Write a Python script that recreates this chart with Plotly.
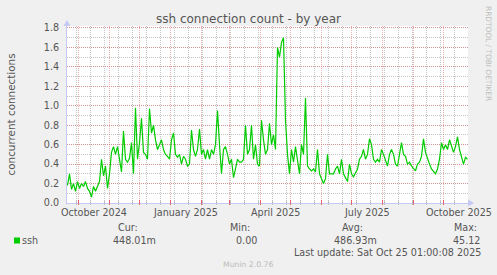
import plotly.graph_objects as go
import pandas as pd

# ---- data ----
start_date = "2024-09-20"
step = "2D"
ssh_values = [
    0.18, 0.30, 0.14, 0.20, 0.12, 0.22, 0.15, 0.20, 0.17, 0.22,
    0.15, 0.12, 0.06, 0.17, 0.12, 0.18, 0.22, 0.45, 0.28, 0.38,
    0.15, 0.30, 0.52, 0.58, 0.50, 0.58, 0.45, 0.32, 0.74, 0.45,
    0.42, 0.46, 0.62, 0.30, 0.98, 0.45, 0.62, 0.87, 0.52, 0.50,
    0.45, 0.97, 0.72, 0.80, 0.65, 0.55, 0.60, 0.65, 0.55, 0.50,
    0.48, 0.45, 0.65, 0.72, 0.50, 0.47, 0.50, 0.40, 0.48, 0.45,
    0.38, 0.40, 0.75, 0.55, 0.48, 0.55, 0.76, 0.50, 0.55, 0.45,
    0.55, 0.45, 0.55, 0.50, 0.60, 0.95, 0.60, 0.30, 0.55, 0.58,
    0.50, 0.40, 0.45, 0.26, 0.35, 0.45, 0.42, 0.42, 0.45, 0.80,
    0.50, 0.55, 0.80, 0.45, 0.60, 0.40, 0.38, 0.85, 0.65, 0.50,
    0.55, 0.82, 0.60, 0.70, 0.55, 1.60, 1.50, 1.65, 1.70, 0.85,
    0.50, 0.30, 0.55, 0.42, 0.58, 0.45, 0.30, 0.60, 0.50, 1.08,
    0.38, 0.35, 0.33, 0.35, 0.32, 0.55, 0.30, 0.25, 0.20, 0.25,
    0.50, 0.30, 0.30, 0.30, 0.35, 0.38, 0.30, 0.45, 0.30, 0.25,
    0.22, 0.40, 0.30, 0.27, 0.32, 0.35, 0.45, 0.48, 0.55, 0.45,
    0.50, 0.66, 0.60, 0.45, 0.42, 0.45, 0.42, 0.55, 0.50, 0.45,
    0.38, 0.50, 0.55, 0.50, 0.40, 0.38, 0.50, 0.62, 0.50, 0.48,
    0.40, 0.42, 0.38, 0.36, 0.33, 0.40, 0.42, 0.48, 0.66, 0.52,
    0.45, 0.40, 0.35, 0.32, 0.30, 0.35, 0.45, 0.62, 0.55, 0.60,
    0.55, 0.65, 0.58, 0.52, 0.58, 0.68, 0.55, 0.48, 0.40, 0.47,
    0.45,
]
dates = pd.date_range(start_date, periods=len(ssh_values), freq=step)

x_label_dates = ["2024-10-16", "2025-01-16", "2025-04-16", "2025-07-16", "2025-10-16"]
x_label_texts = ["October 2024", "January 2025", "April 2025", "July 2025", "October 2025"]
y_tick_vals = [0.0, 0.2, 0.4, 0.6, 0.8, 1.0, 1.2, 1.4, 1.6, 1.8]
y_tick_texts = ["0.0", "0.2", "0.4", "0.6", "0.8", "1.0", "1.2", "1.4", "1.6", "1.8"]

legend_name = "ssh"
stat_headers = ["Cur:", "Min:", "Avg:", "Max:"]
stat_values = ["448.01m", "0.00", "486.93m", "45.12"]
last_update = "Last update: Sat Oct 25 01:00:08 2025"
title_text = "ssh connection count - by year"
y_title = "concurrent connections"

# ---- layout geometry ----
W, H = 497, 275
L, R, T, B = 67, 29, 26, 72
PW, PH = W - L - R, H - T - B
FONT = "DejaVu Sans"
TXT = "#555555"
LINE_GREEN = "#00CC00"
AXIS_BLUE = "#C4CAF4"
MAJOR = "rgba(225,100,100,0.5)"
MINOR = "rgba(140,140,140,0.5)"


def px(x):
    return (x - L) / PW


def py(y):
    return (H - B - y) / PH


month_starts = pd.date_range("2024-10-01", "2025-10-01", freq="MS")
minor_lines = pd.date_range("2024-09-29", "2025-10-25", freq="14D")

fig = go.Figure()
fig.add_trace(go.Scatter(
    x=dates, y=ssh_values, mode="lines",
    line=dict(color=LINE_GREEN, width=1.2),
    hoverinfo="skip", showlegend=False,
))

annotations = []
for d, t in zip(x_label_dates, x_label_texts):
    annotations.append(dict(x=d, xref="x", y=0, yref="paper", yshift=-9,
                            text=t, showarrow=False, xanchor="center", yanchor="middle",
                            font=dict(family=FONT, size=9.6, color=TXT)))

annotations.append(dict(x=px(248.5), xref="paper", y=py(19), yref="paper", text=title_text,
                        showarrow=False, xanchor="center", yanchor="middle",
                        font=dict(family=FONT, size=12, color=TXT)))
annotations.append(dict(x=px(10), xref="paper", y=0.5, yref="paper", text=y_title,
                        showarrow=False, xanchor="center", yanchor="middle", textangle=-90,
                        font=dict(family=FONT, size=10.4, color=TXT)))
annotations.append(dict(x=px(489), xref="paper", y=py(53), yref="paper",
                        text="RRDTOOL / TOBI OETIKER", showarrow=False,
                        xanchor="center", yanchor="middle", textangle=90,
                        font=dict(family=FONT, size=7.4, color="#BDBDBD")))

annotations.append(dict(x=px(20), xref="paper", y=py(240), yref="paper", text=legend_name,
                        showarrow=False, xanchor="left", yanchor="middle",
                        font=dict(family=FONT, size=9.6, color=TXT)))
header_x = [127.5, 239.5, 352, 465.5]
value_x = [134.5, 246.5, 355, 466.5]
for hx, ht in zip(header_x, stat_headers):
    annotations.append(dict(x=px(hx), xref="paper", y=py(227.5), yref="paper", text=ht,
                            showarrow=False, xanchor="center", yanchor="middle",
                            font=dict(family=FONT, size=9.6, color=TXT)))
for vx, vt in zip(value_x, stat_values):
    annotations.append(dict(x=px(vx), xref="paper", y=py(240), yref="paper", text=vt,
                            showarrow=False, xanchor="center", yanchor="middle",
                            font=dict(family=FONT, size=9.6, color=TXT)))
annotations.append(dict(x=px(483), xref="paper", y=py(252), yref="paper", text=last_update,
                        showarrow=False, xanchor="right", yanchor="middle",
                        font=dict(family=FONT, size=9.6, color=TXT)))
annotations.append(dict(x=px(248), xref="paper", y=py(264), yref="paper", text="Munin 2.0.76",
                        showarrow=False, xanchor="center", yanchor="middle",
                        font=dict(family=FONT, size=7.7, color="#BBBBBB")))

shapes = []
# vertical grid (drawn below the data) and small axis ticks
for d in minor_lines:
    shapes.append(dict(type="line", xref="x", yref="paper", x0=d, x1=d, y0=0, y1=1,
                       layer="below", line=dict(color=MINOR, width=1, dash="1px,1px")))
    shapes.append(dict(type="line", xref="x", yref="paper", x0=d, x1=d, y0=py(205), y1=py(201),
                       layer="below", line=dict(color=MINOR, width=1)))
for d in month_starts:
    shapes.append(dict(type="line", xref="x", yref="paper", x0=d, x1=d, y0=0, y1=1,
                       layer="below", line=dict(color=MAJOR, width=1, dash="1px,1px")))
    shapes.append(dict(type="line", xref="x", yref="paper", x0=d, x1=d, y0=py(205), y1=py(200),
                       layer="above", line=dict(color="rgba(225,90,90,0.9)", width=1)))

shapes += [
    # legend colour box
    dict(type="rect", xref="paper", yref="paper", x0=px(14), x1=px(20), y0=py(243.5), y1=py(237.5),
         fillcolor=LINE_GREEN, line=dict(width=0)),
    # left axis extension and top arrow
    dict(type="line", xref="paper", yref="paper", x0=0, x1=0, y0=1, y1=py(22),
         line=dict(color=AXIS_BLUE, width=1)),
    dict(type="path", xref="paper", yref="paper", xsizemode="pixel", ysizemode="pixel",
         xanchor=0, yanchor=py(20), path="M -3.5 -6 L 3.5 -6 L 0 0 Z",
         fillcolor=AXIS_BLUE, line=dict(width=0)),
    # bottom axis extension and right arrow
    dict(type="line", xref="paper", yref="paper", x0=1, x1=px(472), y0=0, y1=0,
         line=dict(color=AXIS_BLUE, width=1)),
    dict(type="path", xref="paper", yref="paper", xsizemode="pixel", ysizemode="pixel",
         xanchor=px(474), yanchor=0, path="M -6 -3.5 L -6 3.5 L 0 0 Z",
         fillcolor=AXIS_BLUE, line=dict(width=0)),
]

fig.update_layout(
    width=W, height=H,
    margin=dict(l=L, r=R, t=T, b=B, pad=0),
    paper_bgcolor="#F0F0F0", plot_bgcolor="#FFFFFF",
    showlegend=False,
    annotations=annotations, shapes=shapes,
    xaxis=dict(
        type="date", range=["2024-09-19 12:00", "2025-10-25 12:00"],
        showticklabels=False, showgrid=False, ticks="",
        showline=True, linecolor=AXIS_BLUE, linewidth=1,
        zeroline=False,
    ),
    yaxis=dict(
        range=[0, 1.82],
        tickvals=y_tick_vals, ticktext=y_tick_texts,
        tickfont=dict(family=FONT, size=9.6, color=TXT),
        ticks="", ticklabelstandoff=5,
        showgrid=True, gridcolor=MAJOR, griddash="1px,1px", gridwidth=1,
        showline=True, linecolor=AXIS_BLUE, linewidth=1,
        zeroline=False,
        minor=dict(dtick=0.1, tick0=0, showgrid=True, gridcolor=MINOR,
                   griddash="1px,1px", gridwidth=1),
    ),
)

fig.write_html("out.html")
